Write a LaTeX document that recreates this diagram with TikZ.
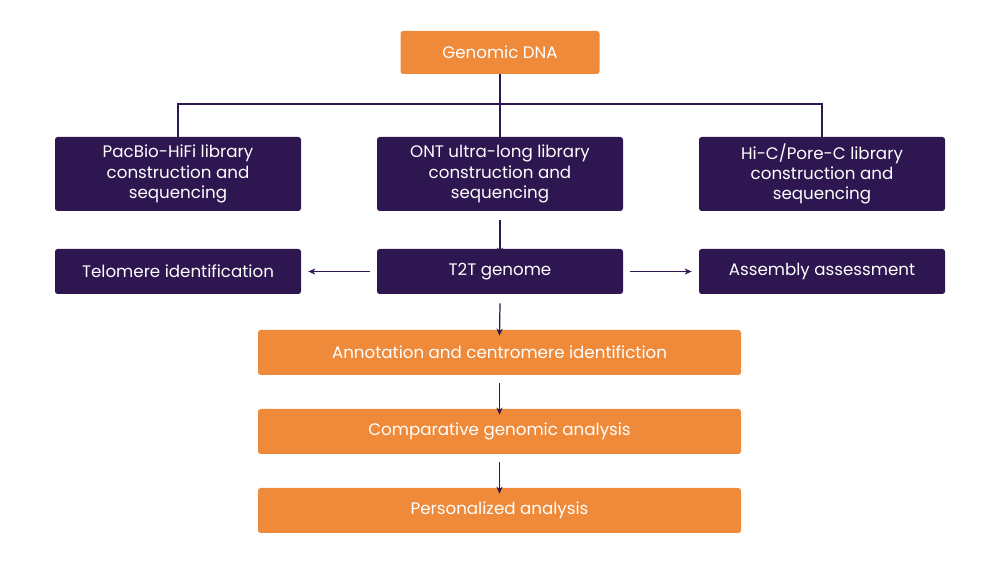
\documentclass[tikz,border=0pt]{standalone}
\usepackage{fontspec}
\setmainfont{Poppins}
\usetikzlibrary{arrows.meta}
\definecolor{org}{HTML}{EE8A3A}
\definecolor{pur}{HTML}{2E1650}
\begin{document}
\begin{tikzpicture}[x=0.02cm,y=-0.02cm,
  ob/.style={fill=org,rounded corners=1.5pt,text=white,font=\fontsize{9.5}{11.5}\selectfont,align=center,inner sep=0pt},
  pb/.style={fill=pur,rounded corners=1.5pt,text=white,font=\fontsize{9.5}{11.5}\selectfont,align=center,inner sep=0pt},
  ar/.style={draw=pur,line width=0.7pt,-{Stealth[length=4pt,width=3.5pt]}}]
\useasboundingbox (0,0) rectangle (1000,573);
\node[ob,minimum width=199*0.02cm,minimum height=43*0.02cm] (dna) at (500,52.5) {Genomic DNA};
\foreach \n/\x/\t in {pac/178/{PacBio-HiFi library\\construction and\\sequencing},ont/500/{ONT ultra-long library\\construction and\\sequencing},hic/822/{Hi-C/Pore-C library\\construction and\\sequencing}}
  \node[pb,minimum width=246*0.02cm,minimum height=74*0.02cm] (\n) at (\x,174) {\t};
\node[pb,minimum width=246*0.02cm,minimum height=45*0.02cm] (tel) at (178,271.5) {Telomere identification};
\node[pb,minimum width=246*0.02cm,minimum height=45*0.02cm] (t2t) at (500,271.5) {T2T genome};
\node[pb,minimum width=246*0.02cm,minimum height=45*0.02cm] (ass) at (822,271.5) {Assembly assessment};
\node[ob,minimum width=483*0.02cm,minimum height=45*0.02cm] (ann) at (499.5,352.5) {Annotation and centromere identifiction};
\node[ob,minimum width=483*0.02cm,minimum height=45*0.02cm] (cmp) at (499.5,431.5) {Comparative genomic analysis};
\node[ob,minimum width=483*0.02cm,minimum height=45*0.02cm] (per) at (499.5,510.5) {Personalized analysis};
\coordinate (j) at (500,104);
\draw[draw=pur,line width=0.7pt] (dna.south) -- (j);
\draw[ar] (j) -- ([yshift=-10*0.02cm]ont.north);
\draw[ar] (j) -| ([yshift=-10*0.02cm]pac.north);
\draw[ar] (j) -| ([yshift=-10*0.02cm]hic.north);
\draw[ar] ([yshift=-9*0.02cm]ont.south) -- ([yshift=-6*0.02cm]t2t.north);
\draw[ar] ([xshift=-7*0.02cm]t2t.west) -- ([xshift=7*0.02cm]tel.east);
\draw[ar] ([xshift=7*0.02cm]t2t.east) -- ([xshift=-7*0.02cm]ass.west);
\draw[ar] ([yshift=-9*0.02cm]t2t.south) -- ([yshift=-6*0.02cm]ann.north);
\draw[ar] ([yshift=-8*0.02cm]ann.south) -- ([yshift=-6*0.02cm]cmp.north);
\draw[ar] ([yshift=-8*0.02cm]cmp.south) -- ([yshift=-6*0.02cm]per.north);
\end{tikzpicture}
\end{document}
